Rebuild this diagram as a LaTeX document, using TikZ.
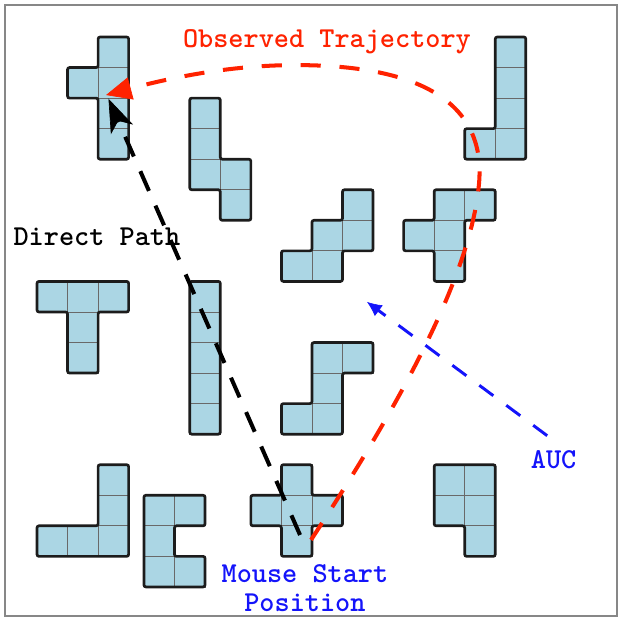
\documentclass[tikz,border=0pt]{standalone}
\usepackage{fontspec}
\usepackage{tikz}
\usetikzlibrary{arrows.meta}
\newfontfamily\labfont{lmmonolt10-bold.otf}
\definecolor{figline}{RGB}{28,28,28}
\definecolor{figcell}{RGB}{171,214,228}
\definecolor{figgrid}{RGB}{105,105,105}
\definecolor{figframe}{RGB}{135,135,135}
\definecolor{figred}{RGB}{255,34,0}
\definecolor{figblue}{RGB}{20,20,250}
\tikzset{
  cel/.style  ={fill=figcell, draw=figgrid, line width=0.6pt},
  pcs/.style  ={draw=figline, line width=2pt, rounded corners=1.5pt},
  lab/.style  ={font=\fontsize{21.5}{21.6}\selectfont\labfont, inner sep=0pt},
  trj/.style  ={draw=figred, line width=3pt, dash pattern=on 15pt off 14pt, -{Triangle[length=19pt,width=17pt,line width=0.5pt]}},
  dpt/.style  ={draw=black, line width=3pt, dash pattern=on 16pt off 12pt, -{Stealth[length=25pt,width=18pt,inset=7pt,line width=0.5pt]}},
  aucp/.style ={draw=figblue, line width=2.2pt, dash pattern=on 13pt off 12pt, -{Latex[length=11pt,width=10pt,line width=0.5pt]}},
}
\begin{document}
\begin{tikzpicture}[x=0.8cm,y=-0.8cm]
  \useasboundingbox (-1.211,-1.211) rectangle (19.214,19.149);
  \draw[figframe,line width=1.4pt] (-1.047,-1.047) rectangle (18.985,18.953);
  \draw[cel] (2,0) rectangle ++(1,1) (2,1) rectangle ++(1,1) (2,2) rectangle ++(1,1) (2,3) rectangle ++(1,1) (1,1) rectangle ++(1,1);
  \draw[pcs] (2,0) -- (3,0) -- (3,4) -- (2,4) -- (2,2) -- (1,2) -- (1,1) -- (2,1) -- cycle;
  \draw[cel] (5,2) rectangle ++(1,1) (5,3) rectangle ++(1,1) (5,4) rectangle ++(1,1) (6,4) rectangle ++(1,1) (6,5) rectangle ++(1,1);
  \draw[pcs] (5,2) -- (6,2) -- (6,4) -- (7,4) -- (7,6) -- (6,6) -- (6,5) -- (5,5) -- cycle;
  \draw[cel] (15,0) rectangle ++(1,1) (15,1) rectangle ++(1,1) (15,2) rectangle ++(1,1) (15,3) rectangle ++(1,1) (14,3) rectangle ++(1,1);
  \draw[pcs] (15,0) -- (16,0) -- (16,4) -- (14,4) -- (14,3) -- (15,3) -- cycle;
  \draw[cel] (10,5) rectangle ++(1,1) (10,6) rectangle ++(1,1) (9,6) rectangle ++(1,1) (9,7) rectangle ++(1,1) (8,7) rectangle ++(1,1);
  \draw[pcs] (10,5) -- (11,5) -- (11,7) -- (10,7) -- (10,8) -- (8,8) -- (8,7) -- (9,7) -- (9,6) -- (10,6) -- cycle;
  \draw[cel] (13,5) rectangle ++(1,1) (13,6) rectangle ++(1,1) (13,7) rectangle ++(1,1) (14,5) rectangle ++(1,1) (12,6) rectangle ++(1,1);
  \draw[pcs] (13,5) -- (15,5) -- (15,6) -- (14,6) -- (14,8) -- (13,8) -- (13,7) -- (12,7) -- (12,6) -- (13,6) -- cycle;
  \draw[cel] (0,8) rectangle ++(1,1) (1,8) rectangle ++(1,1) (2,8) rectangle ++(1,1) (1,9) rectangle ++(1,1) (1,10) rectangle ++(1,1);
  \draw[pcs] (0,8) -- (3,8) -- (3,9) -- (2,9) -- (2,11) -- (1,11) -- (1,9) -- (0,9) -- cycle;
  \draw[cel] (5,8) rectangle ++(1,1) (5,9) rectangle ++(1,1) (5,10) rectangle ++(1,1) (5,11) rectangle ++(1,1) (5,12) rectangle ++(1,1);
  \draw[pcs] (5,8) -- (6,8) -- (6,13) -- (5,13) -- cycle;
  \draw[cel] (9,10) rectangle ++(1,1) (10,10) rectangle ++(1,1) (9,11) rectangle ++(1,1) (9,12) rectangle ++(1,1) (8,12) rectangle ++(1,1);
  \draw[pcs] (9,10) -- (11,10) -- (11,11) -- (10,11) -- (10,13) -- (8,13) -- (8,12) -- (9,12) -- cycle;
  \draw[cel] (2,14) rectangle ++(1,1) (2,15) rectangle ++(1,1) (2,16) rectangle ++(1,1) (1,16) rectangle ++(1,1) (0,16) rectangle ++(1,1);
  \draw[pcs] (2,14) -- (3,14) -- (3,17) -- (0,17) -- (0,16) -- (2,16) -- cycle;
  \draw[cel] (3.5,15) rectangle ++(1,1) (4.5,15) rectangle ++(1,1) (3.5,16) rectangle ++(1,1) (3.5,17) rectangle ++(1,1) (4.5,17) rectangle ++(1,1);
  \draw[pcs] (3.5,15) -- (5.5,15) -- (5.5,16) -- (4.5,16) -- (4.5,17) -- (5.5,17) -- (5.5,18) -- (3.5,18) -- cycle;
  \draw[cel] (8,14) rectangle ++(1,1) (7,15) rectangle ++(1,1) (8,15) rectangle ++(1,1) (9,15) rectangle ++(1,1) (8,16) rectangle ++(1,1);
  \draw[pcs] (8,14) -- (9,14) -- (9,15) -- (10,15) -- (10,16) -- (9,16) -- (9,17) -- (8,17) -- (8,16) -- (7,16) -- (7,15) -- (8,15) -- cycle;
  \draw[cel] (13,14) rectangle ++(1,1) (14,14) rectangle ++(1,1) (13,15) rectangle ++(1,1) (14,15) rectangle ++(1,1) (14,16) rectangle ++(1,1);
  \draw[pcs] (13,14) -- (15,14) -- (15,17) -- (14,17) -- (14,16) -- (13,16) -- cycle;
  \coordinate (mstart) at (8.61,16.30);
  \coordinate (dirtip) at (2.34,2.02);
  \coordinate (trjstart) at (8.97,16.46);
  \coordinate (trjright) at (14.47,4.78);
  \coordinate (trjtop) at (8.61,0.92);
  \coordinate (trjtip) at (2.26,1.90);
  \coordinate (auctail) at (16.70,13.05);
  \coordinate (auctip) at (10.80,8.67);
  \draw[dpt] (mstart) -- (dirtip);
  \draw[trj] (trjstart) .. controls (11.5,12.6) and (14.2,8.0) .. (trjright)
    .. controls (14.68,2.3) and (12.8,0.95) .. (trjtop)
    .. controls (6.5,0.9) and (4.5,1.3) .. (trjtip);
  \draw[aucp] (auctail) -- (auctip);
  \node[lab,text=figred,anchor=base] (obstxt) at (9.49,0.36) {Observed Trajectory};
  \node[lab,anchor=base] (dirtxt) at (1.96,6.81) {Direct Path};
  \node[lab,text=figblue,anchor=base] (auctxt) at (16.91,14.14) {AUC};
  \node[lab,text=figblue,align=center,anchor=base] (msptxt) at (8.77,18.82) {Mouse Start\\Position};
\end{tikzpicture}
\end{document}
